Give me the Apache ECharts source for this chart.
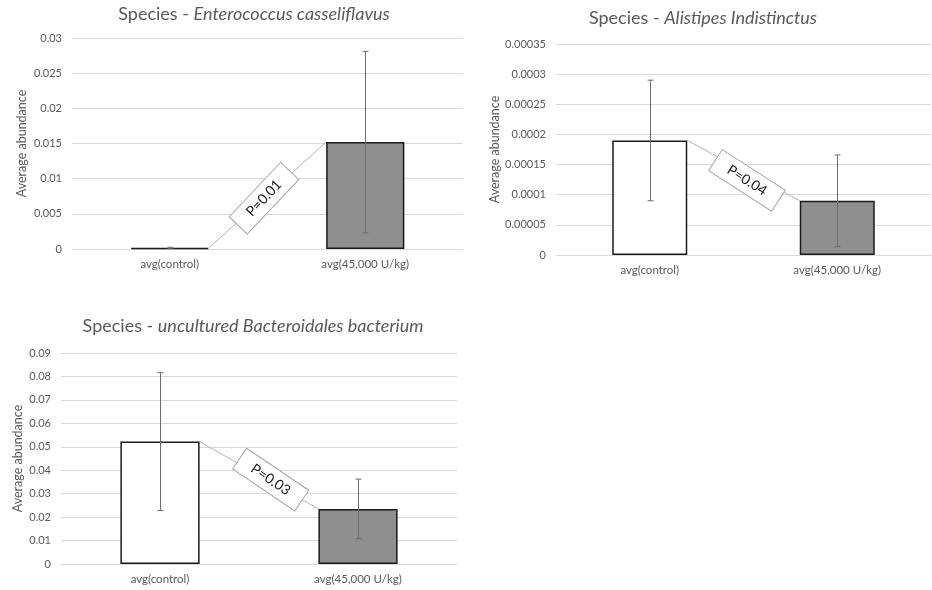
<!DOCTYPE html>
<html>
<head>
<meta charset="utf-8">
<title>Species average abundance</title>
<script src="https://cdn.jsdelivr.net/npm/echarts@6/dist/echarts.min.js"></script>
<style>
  html, body { margin: 0; padding: 0; background: #ffffff; }
  #chart { width: 932px; height: 590px; }
</style>
</head>
<body>
<div id="chart"></div>
<script>
// ---- data ----
const categories = ['avg(control)', 'avg(45,000 U/kg)'];
const speciesNames = ['Enterococcus casseliflavus', 'Alistipes Indistinctus', 'uncultured Bacteroidales bacterium'];

const meanEnterococcus = [0.00015, 0.0152];
const sdEnterococcus = [0.0001, 0.0129];

const meanAlistipes = [0.00019, 0.00009];
const sdAlistipes = [0.0001, 0.000076];

const meanBacteroidales = [0.0522, 0.0235];
const sdBacteroidales = [0.0294, 0.0127];

const pValueLabels = ['P=0.01', 'P=0.04', 'P=0.03'];

const yAxisMax = [0.03, 0.00035, 0.09];
const yAxisStep = [0.005, 0.00005, 0.01];

// ---- layout / styling ----
const FONT = 'Lato, "Open Sans", sans-serif';
const TEXT_GRAY = '#595959';
const GRID_GRAY = '#d9d9d9';
const BAR_FILLS = ['#ffffff', '#8f8f8f'];
const BAR_WIDTH_RATIO = 0.4;

const panels = [
  { mean: meanEnterococcus, sd: sdEnterococcus,
    grid: { left: 72, right: 469, top: 38, bottom: 341 },
    title: [254, 14], nameGap: 44, labelFraction: 0.47, labelOffset: 0 },
  { mean: meanAlistipes, sd: sdAlistipes,
    grid: { left: 556, right: 1, top: 44, bottom: 335 },
    title: [703, 18], nameGap: 54, labelFraction: 0.56, labelOffset: 7 },
  { mean: meanBacteroidales, sd: sdBacteroidales,
    grid: { left: 61, right: 475, top: 353, bottom: 26 },
    title: [253, 326], nameGap: 37, labelFraction: 0.59, labelOffset: -2 }
];

function tickFormatter(v) {
  return String(parseFloat(v.toFixed(6)));
}

const grids = [], xAxes = [], yAxes = [], series = [], graphics = [];

panels.forEach(function (p, i) {
  grids.push(Object.assign({ containLabel: false }, p.grid));

  xAxes.push({
    type: 'category', gridIndex: i, data: categories,
    axisLine: { show: true, lineStyle: { color: GRID_GRAY, width: 1 } },
    axisTick: { show: false },
    axisLabel: { color: TEXT_GRAY, fontFamily: FONT, fontSize: 11.5, margin: 9 }
  });

  yAxes.push({
    type: 'value', gridIndex: i, min: 0, max: yAxisMax[i], interval: yAxisStep[i],
    name: 'Average abundance', nameLocation: 'middle', nameRotate: 90, nameGap: p.nameGap,
    nameTextStyle: { color: TEXT_GRAY, fontFamily: FONT, fontSize: 12.5 },
    axisLine: { show: false }, axisTick: { show: false },
    splitLine: { lineStyle: { color: GRID_GRAY, width: 1 } },
    axisLabel: { color: TEXT_GRAY, fontFamily: FONT, fontSize: 11, margin: 10, formatter: tickFormatter }
  });

  // bars
  series.push({
    type: 'bar', xAxisIndex: i, yAxisIndex: i,
    barWidth: (BAR_WIDTH_RATIO * 100) + '%',
    data: p.mean.map(function (v, k) {
      return { value: v, itemStyle: { color: BAR_FILLS[k] } };
    }),
    itemStyle: { borderColor: '#1a1a1a', borderWidth: 1.5 },
    silent: true, z: 2
  });

  // connector line between the bar tops with the rotated P-value tag
  series.push({
    type: 'custom', xAxisIndex: i, yAxisIndex: i, z: 3, silent: true,
    data: [[0, p.mean[0], p.mean[1]]],
    encode: { x: 0, y: 1 },
    renderItem: function (params, api) {
      const band = api.size([1, 0])[0];
      const half = band * BAR_WIDTH_RATIO / 2;
      const a = api.coord([0, api.value(1)]);
      const b = api.coord([1, api.value(2)]);
      const x0 = a[0] + half, y0 = a[1];
      const x1 = b[0] - half, y1 = b[1];
      const ang = Math.atan2(-(y1 - y0), x1 - x0);
      const tilt = ang > 0 ? 0.08 : -0.08;
      const len = Math.hypot(x1 - x0, y1 - y0);
      const nx = -(y1 - y0) / len, ny = (x1 - x0) / len;
      const cx = x0 + (x1 - x0) * p.labelFraction + nx * p.labelOffset * (ang > 0 ? -1 : 1);
      const cy = y0 + (y1 - y0) * p.labelFraction + ny * p.labelOffset * (ang > 0 ? -1 : 1);
      return {
        type: 'group',
        children: [
          { type: 'line', shape: { x1: x0, y1: y0, x2: x1, y2: y1 },
            style: { stroke: '#b4b4b4', lineWidth: 1 } },
          { type: 'group', x: cx, y: cy, rotation: ang + tilt,
            children: [
              { type: 'rect', shape: { x: -37.5, y: -12.5, width: 75, height: 25 },
                style: { fill: '#ffffff', stroke: '#a6a6a6', lineWidth: 1 } },
              { type: 'text', style: { text: pValueLabels[i], x: 0, y: 0, align: 'center',
                  verticalAlign: 'middle', font: '14px ' + FONT, fill: '#1a1a1a' } }
            ] }
        ]
      };
    }
  });

  // error bars (mean ± sd)
  series.push({
    type: 'custom', xAxisIndex: i, yAxisIndex: i, z: 4, silent: true,
    data: p.mean.map(function (v, k) { return [k, v, p.sd[k]]; }),
    encode: { x: 0, y: 1 },
    renderItem: function (params, api) {
      const k = api.value(0), m = api.value(1), s = api.value(2);
      const top = api.coord([k, m + s]);
      const bot = api.coord([k, Math.max(0, m - s)]);
      const x = Math.round(top[0]) + 0.5;
      const stroke = { stroke: '#6d6d6d', lineWidth: 1 };
      return {
        type: 'group',
        children: [
          { type: 'line', shape: { x1: x, y1: top[1], x2: x, y2: bot[1] }, style: stroke },
          { type: 'line', shape: { x1: x - 3, y1: top[1], x2: x + 3, y2: top[1] }, style: stroke },
          { type: 'line', shape: { x1: x - 3, y1: bot[1], x2: x + 3, y2: bot[1] }, style: stroke }
        ]
      };
    }
  });

  // panel heading: "Species - <italic species name>"
  graphics.push({
    type: 'text', x: p.title[0], y: p.title[1], silent: true,
    style: {
      text: 'Species - {i|' + speciesNames[i] + '}',
      align: 'center', verticalAlign: 'middle',
      font: '18px ' + FONT, fill: TEXT_GRAY,
      rich: { i: { fontStyle: 'italic', fontSize: 18, fontFamily: FONT, color: TEXT_GRAY } }
    }
  });
});

const chart = echarts.init(document.getElementById('chart'), null, { renderer: 'canvas' });
chart.setOption({
  animation: false,
  backgroundColor: '#ffffff',
  grid: grids,
  xAxis: xAxes,
  yAxis: yAxes,
  series: series,
  graphic: graphics
});
</script>
</body>
</html>
